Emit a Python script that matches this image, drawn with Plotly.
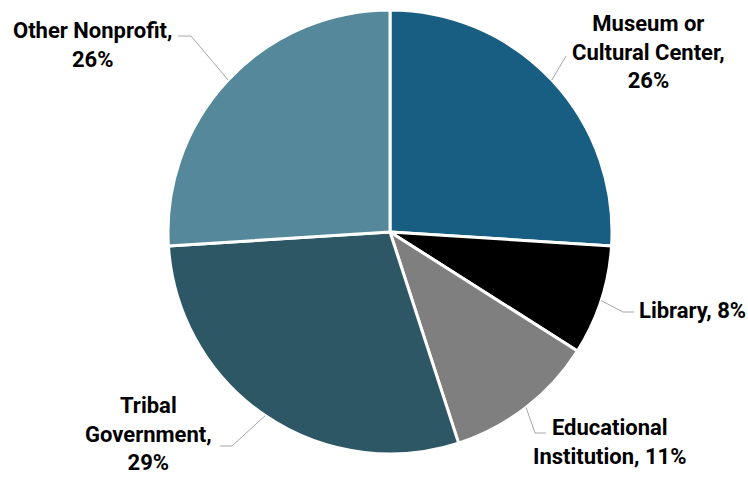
import math
import plotly.graph_objects as go

# ---- data ----
categories = ["Museum or Cultural Center", "Library", "Educational Institution",
              "Tribal Government", "Other Nonprofit"]
values = [26, 8, 11, 29, 26]
label_texts = ["Museum or<br>Cultural Center,", "Library,", "Educational<br>Institution,",
               "Tribal<br>Government,", "Other Nonprofit,"]
colors = ["#175E82", "#000000", "#7F7F7F", "#2E5766", "#55889A"]

W, H = 748, 479
CX, CY, R = 390, 232, 222

# label layout (pixel positions / style only)
label_pos = [  # (x, y, xanchor, pct on new line?)
    (648, 52, "center", True),
    (637, 310, "left", False),
    (610, 442, "center", False),
    (148, 434, "center", True),
    (92, 45, "center", True),
]
leader_pts = [
    [(566, 56)],
    [(623, 312), (634, 312)],
    [(535, 433), (546, 433)],
    [(232, 446), (220, 446)],
    [(191, 36), (178, 36)],
]

def px(x):
    return x / W

def py(y):
    return 1 - y / H

fig = go.Figure(go.Pie(
    labels=categories,
    values=values,
    sort=False,
    direction="clockwise",
    rotation=0,
    marker=dict(colors=colors, line=dict(color="white", width=3)),
    textinfo="none",
    hoverinfo="label+percent",
    showlegend=False,
    domain=dict(x=[px(CX - R), px(CX + R)], y=[py(CY + R), py(CY - R)]),
))

total = sum(values)
cum = 0
font = dict(family="Roboto, Arial, sans-serif", size=22, color="black")
for i, v in enumerate(values):
    mid = (cum + v / 2) / total * 2 * math.pi
    cum += v
    sx = CX + R * math.sin(mid)
    sy = CY - R * math.cos(mid)
    pts = [(sx, sy)] + leader_pts[i]
    path = "M " + " L ".join(f"{px(x)},{py(y)}" for x, y in pts)
    fig.add_shape(type="path", path=path, xref="paper", yref="paper",
                  line=dict(color="#A6A6A6", width=1))
    pct = f"{round(v / total * 100)}%"
    x, y, anchor, newline = label_pos[i]
    txt = label_texts[i] + ("<br>" if newline else " ") + pct
    fig.add_annotation(x=px(x), y=py(y), xref="paper", yref="paper",
                       text=f"<b>{txt}</b>", showarrow=False,
                       xanchor=anchor, yanchor="middle", align="center",
                       font=font)

fig.update_layout(width=W, height=H, margin=dict(l=0, r=0, t=0, b=0),
                  paper_bgcolor="white", plot_bgcolor="white")
fig.write_html("out.html")
